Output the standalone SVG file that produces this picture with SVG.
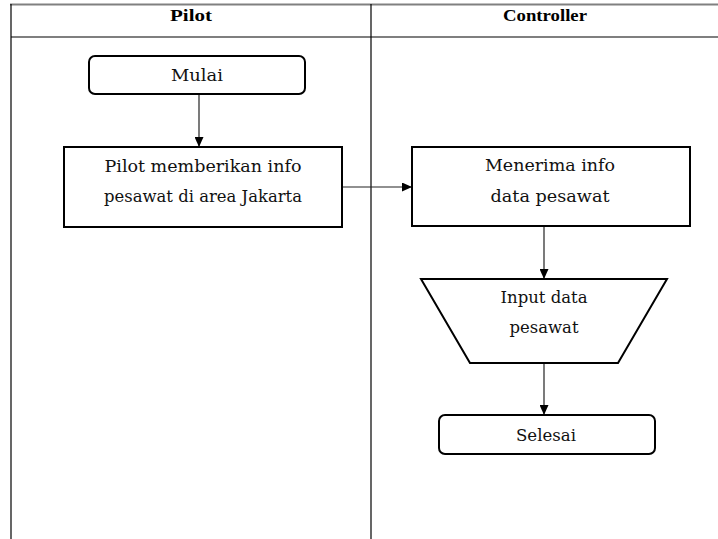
<svg xmlns="http://www.w3.org/2000/svg" width="718" height="539" viewBox="0 0 718 539">
  <style>
    .lane { stroke: #000; stroke-width: 1.2; fill: none; }
    .box { fill: #fff; stroke: #000; stroke-width: 2; }
    .head { font-family: "Liberation Serif", "Times New Roman", serif; font-weight: bold; font-size: 16px; fill: #000; text-anchor: middle; }
    .lbl { font-family: "DejaVu Serif", "Liberation Serif", serif; font-size: 16.5px; fill: #111; text-anchor: middle; }
    .conn { stroke: #222; stroke-width: 1.2; fill: none; marker-end: url(#arrow); }
  </style>
  <defs>
    <marker id="arrow" markerUnits="userSpaceOnUse" markerWidth="10" markerHeight="9" refX="10" refY="4.5" orient="auto">
      <path d="M0,0 L10,4.5 L0,9 Z" fill="#000"/>
    </marker>
  </defs>
  <rect width="718" height="539" fill="#fff"/>

  <!-- swimlane frame -->
  <g id="lanes">
    <line x1="10" y1="4.5" x2="718" y2="4.5" stroke="#808080" stroke-width="2"/>
    <line class="lane" x1="11" y1="4" x2="11" y2="539"/>
    <line class="lane" x1="371" y1="4" x2="371" y2="539"/>
    <line class="lane" x1="11" y1="37" x2="718" y2="37"/>
    <text class="head" x="191" y="21" textLength="42" lengthAdjust="spacingAndGlyphs">Pilot</text>
    <text class="head" x="545" y="21" textLength="84" lengthAdjust="spacingAndGlyphs">Controller</text>
  </g>

  <!-- connectors -->
  <g id="connectors">
    <line class="conn" x1="199" y1="94" x2="199" y2="147"/>
    <line class="conn" x1="342" y1="187" x2="412" y2="187"/>
    <line class="conn" x1="544" y1="226" x2="544" y2="279"/>
    <line class="conn" x1="544" y1="363" x2="544" y2="415"/>
  </g>

  <g id="mulai">
    <rect class="box" x="89" y="56" width="216" height="38" rx="6"/>
    <text class="lbl" x="197" y="81" textLength="52" lengthAdjust="spacingAndGlyphs">Mulai</text>
  </g>

  <g id="pilot-info">
    <rect class="box" x="64" y="147" width="278" height="80"/>
    <text class="lbl" x="203" y="172" textLength="197" lengthAdjust="spacingAndGlyphs">Pilot memberikan info</text>
    <text class="lbl" x="203" y="202" textLength="198" lengthAdjust="spacingAndGlyphs">pesawat di area Jakarta</text>
  </g>

  <g id="terima-info">
    <rect class="box" x="412" y="147" width="278" height="79"/>
    <text class="lbl" x="550" y="171" textLength="130" lengthAdjust="spacingAndGlyphs">Menerima info</text>
    <text class="lbl" x="550" y="202" textLength="119" lengthAdjust="spacingAndGlyphs">data pesawat</text>
  </g>

  <g id="input-data">
    <polygon class="box" points="421,279 667,279 618,363 470,363"/>
    <text class="lbl" x="544" y="303" textLength="87" lengthAdjust="spacingAndGlyphs">Input data</text>
    <text class="lbl" x="544" y="333" textLength="69" lengthAdjust="spacingAndGlyphs">pesawat</text>
  </g>

  <g id="selesai">
    <rect class="box" x="439" y="415" width="216" height="39" rx="6"/>
    <text class="lbl" x="546" y="441" textLength="60" lengthAdjust="spacingAndGlyphs">Selesai</text>
  </g>
</svg>
